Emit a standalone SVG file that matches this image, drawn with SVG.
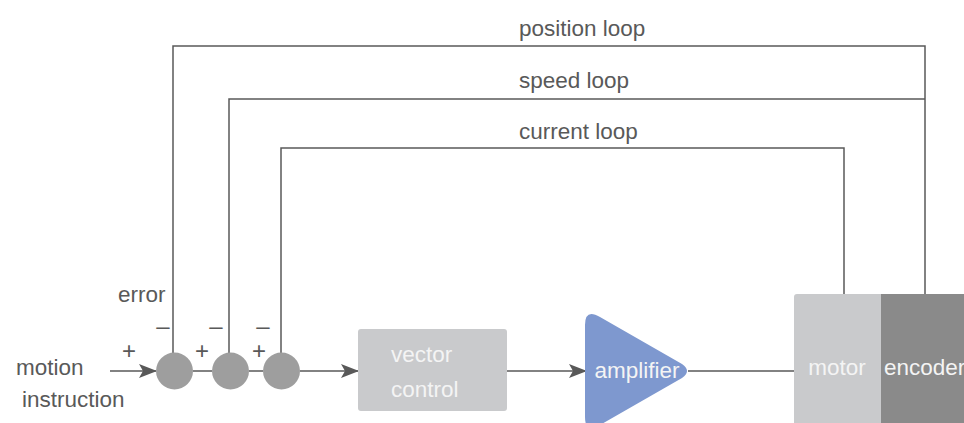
<svg xmlns="http://www.w3.org/2000/svg" width="964" height="423" viewBox="0 0 964 423">
<style>
.t{font-family:"Liberation Sans","Arial",sans-serif;font-size:22.5px;fill:#595959}
.s{font-family:"Liberation Sans","Arial",sans-serif;font-size:24px;fill:#595959}
.w{font-family:"Liberation Sans","Arial",sans-serif;font-size:22.5px;fill:#f4f4f4}
.ln{stroke:#595959;stroke-width:1.5;fill:none}
</style>
<defs>
<marker id="ah" markerWidth="18" markerHeight="14" refX="17" refY="7" orient="auto" markerUnits="userSpaceOnUse">
<path d="M0,0 L18,7 L0,14 L4,7 Z" fill="#595959"/>
</marker>
</defs>
<rect width="964" height="423" fill="#ffffff"/>
<g id="connectors">
<polyline class="ln" points="173,353 173,46 925,46 925,294"/>
<polyline class="ln" points="229,353 229,99 925,99"/>
<polyline class="ln" points="281,353 281,148 844,148 844,294"/>
<line class="ln" x1="110" y1="371" x2="156" y2="371" marker-end="url(#ah)"/>
<line class="ln" x1="193" y1="371" x2="212" y2="371"/>
<line class="ln" x1="249" y1="371" x2="263" y2="371"/>
<line class="ln" x1="300" y1="371" x2="358" y2="371" marker-end="url(#ah)"/>
<line class="ln" x1="507" y1="371" x2="586" y2="371" marker-end="url(#ah)"/>
<line class="ln" x1="688" y1="371" x2="794" y2="371"/>
</g>
<g id="labels">
<text class="t" x="519" y="36">position loop</text>
<text class="t" x="519" y="88">speed loop</text>
<text class="t" x="519" y="139">current loop</text>
<text class="t" x="16" y="375">motion</text>
<text class="t" x="22" y="407">instruction</text>
<text class="t" x="118" y="302">error</text>
<text class="s" x="163" y="334" text-anchor="middle">–</text>
<text class="s" x="216" y="334" text-anchor="middle">–</text>
<text class="s" x="263" y="334" text-anchor="middle">–</text>
<text class="s" x="129" y="359" text-anchor="middle">+</text>
<text class="s" x="202" y="359" text-anchor="middle">+</text>
<text class="s" x="259" y="359" text-anchor="middle">+</text>
</g>
<g id="sum1"><circle cx="174.5" cy="371" r="18.5" fill="#9e9e9e"/></g>
<g id="sum2"><circle cx="230.5" cy="371" r="18.5" fill="#9e9e9e"/></g>
<g id="sum3"><circle cx="281.5" cy="371" r="18.5" fill="#9e9e9e"/></g>
<g id="vector-control">
<rect x="358" y="329" width="149" height="82" rx="3" fill="#c9cacc"/>
<text class="w" x="391" y="362">vector</text>
<text class="w" x="391" y="397">control</text>
</g>
<g id="amplifier">
<path d="M585,325 Q585,308 600,317 L682,364 Q692,371 682,378 L600,425 Q585,434 585,417 Z" fill="#7e98cf"/>
<text class="w" x="637" y="378" text-anchor="middle">amplifier</text>
</g>
<g id="motor">
<path d="M794,423 L794,297 Q794,294 797,294 L881,294 L881,423 Z" fill="#c9cacc"/>
<text class="w" x="837" y="375" text-anchor="middle">motor</text>
</g>
<g id="encoder">
<rect x="881" y="294" width="90" height="140" fill="#8a8a8a"/>
<text class="w" x="884" y="375">encoder</text>
</g>
</svg>
